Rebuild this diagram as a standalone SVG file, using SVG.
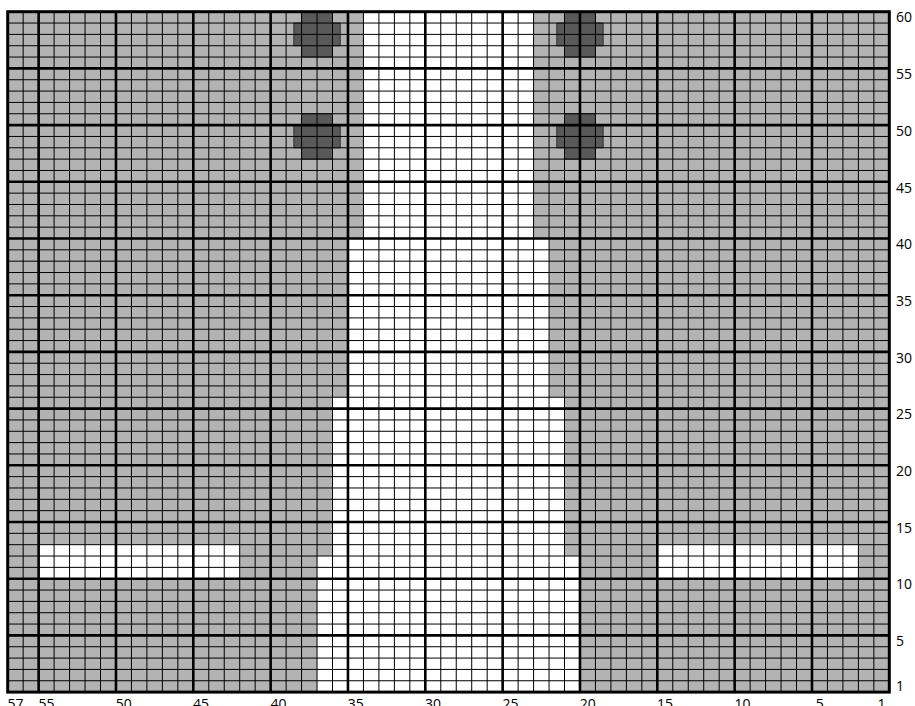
<svg xmlns="http://www.w3.org/2000/svg" width="915" height="706" viewBox="0 0 915 706">
<style>
.bg{fill:#b3b3b3}
.wh{fill:#ffffff}
.dot{fill:#595959;stroke:#333333;stroke-width:1}
.thin{fill:none;stroke:#000000;stroke-width:1}
.thick{fill:none;stroke:#000000;stroke-width:2.6}
.border{fill:none;stroke:#000000;stroke-width:3}
.lbl{font-family:"Open Sans","Noto Sans","Liberation Sans",sans-serif;font-size:14px;fill:#000000}
.cl{text-anchor:middle}
</style>
<defs>
<polygon id="dotshape" points="-15.47,-22.68 15.47,-22.68 15.47,-11.34 23.2,-11.34 23.2,11.34 15.47,11.34 15.47,22.68 -15.47,22.68 -15.47,11.34 -23.2,11.34 -23.2,-11.34 -15.47,-11.34"/>
</defs>
<rect width="915" height="706" fill="#ffffff"/>
<g id="chart">
<rect class="bg" x="7.7" y="11.7" width="881.62" height="680.4"/>
<polygon class="wh" points="363.44,11.70 533.58,11.70 533.58,238.50 549.05,238.50 549.05,397.26 564.51,397.26 564.51,556.02 579.98,556.02 579.98,692.10 317.04,692.10 317.04,556.02 332.51,556.02 332.51,397.26 347.97,397.26 347.97,238.50 363.44,238.50"/>
<rect class="wh" x="38.63" y="544.68" width="201.08" height="34.02"/>
<rect class="wh" x="657.31" y="544.68" width="201.08" height="34.02"/>
<use href="#dotshape" class="dot" x="317.04" y="34.38"/>
<use href="#dotshape" class="dot" x="579.98" y="34.38"/>
<use href="#dotshape" class="dot" x="317.04" y="136.44"/>
<use href="#dotshape" class="dot" x="579.98" y="136.44"/>
</g>
<g id="grid">
<path class="thin" d="M23.17 11.7V692.1M54.10 11.7V692.1M69.57 11.7V692.1M85.04 11.7V692.1M100.50 11.7V692.1M131.44 11.7V692.1M146.90 11.7V692.1M162.37 11.7V692.1M177.84 11.7V692.1M208.77 11.7V692.1M224.24 11.7V692.1M239.71 11.7V692.1M255.17 11.7V692.1M286.11 11.7V692.1M301.57 11.7V692.1M317.04 11.7V692.1M332.51 11.7V692.1M363.44 11.7V692.1M378.91 11.7V692.1M394.38 11.7V692.1M409.84 11.7V692.1M440.78 11.7V692.1M456.24 11.7V692.1M471.71 11.7V692.1M487.18 11.7V692.1M518.11 11.7V692.1M533.58 11.7V692.1M549.05 11.7V692.1M564.51 11.7V692.1M595.45 11.7V692.1M610.91 11.7V692.1M626.38 11.7V692.1M641.85 11.7V692.1M672.78 11.7V692.1M688.25 11.7V692.1M703.72 11.7V692.1M719.18 11.7V692.1M750.12 11.7V692.1M765.58 11.7V692.1M781.05 11.7V692.1M796.52 11.7V692.1M827.45 11.7V692.1M842.92 11.7V692.1M858.39 11.7V692.1M873.85 11.7V692.1"/>
<path class="thin" d="M7.7 23.04H889.32M7.7 34.38H889.32M7.7 45.72H889.32M7.7 57.06H889.32M7.7 79.74H889.32M7.7 91.08H889.32M7.7 102.42H889.32M7.7 113.76H889.32M7.7 136.44H889.32M7.7 147.78H889.32M7.7 159.12H889.32M7.7 170.46H889.32M7.7 193.14H889.32M7.7 204.48H889.32M7.7 215.82H889.32M7.7 227.16H889.32M7.7 249.84H889.32M7.7 261.18H889.32M7.7 272.52H889.32M7.7 283.86H889.32M7.7 306.54H889.32M7.7 317.88H889.32M7.7 329.22H889.32M7.7 340.56H889.32M7.7 363.24H889.32M7.7 374.58H889.32M7.7 385.92H889.32M7.7 397.26H889.32M7.7 419.94H889.32M7.7 431.28H889.32M7.7 442.62H889.32M7.7 453.96H889.32M7.7 476.64H889.32M7.7 487.98H889.32M7.7 499.32H889.32M7.7 510.66H889.32M7.7 533.34H889.32M7.7 544.68H889.32M7.7 556.02H889.32M7.7 567.36H889.32M7.7 590.04H889.32M7.7 601.38H889.32M7.7 612.72H889.32M7.7 624.06H889.32M7.7 646.74H889.32M7.7 658.08H889.32M7.7 669.42H889.32M7.7 680.76H889.32"/>
<path class="thick" d="M38.63 11.7V692.1M115.97 11.7V692.1M193.30 11.7V692.1M270.64 11.7V692.1M347.97 11.7V692.1M425.31 11.7V692.1M502.64 11.7V692.1M579.98 11.7V692.1M657.31 11.7V692.1M734.65 11.7V692.1M811.98 11.7V692.1"/>
<path class="thick" d="M7.7 68.40H889.32M7.7 125.10H889.32M7.7 181.80H889.32M7.7 238.50H889.32M7.7 295.20H889.32M7.7 351.90H889.32M7.7 408.60H889.32M7.7 465.30H889.32M7.7 522.00H889.32M7.7 578.70H889.32M7.7 635.40H889.32"/>
<rect class="border" x="7.7" y="11.7" width="881.62" height="680.4"/>
</g>
<g id="row-labels" class="lbl">
<text x="896" y="22.4">60</text>
<text x="896" y="79.1">55</text>
<text x="896" y="135.8">50</text>
<text x="896" y="192.5">45</text>
<text x="896" y="249.2">40</text>
<text x="896" y="305.9">35</text>
<text x="896" y="362.6">30</text>
<text x="896" y="419.3">25</text>
<text x="896" y="476.0">20</text>
<text x="896" y="532.7">15</text>
<text x="896" y="589.4">10</text>
<text x="896" y="646.1">5</text>
<text x="896" y="691.4">1</text>
</g>
<g id="col-labels" class="lbl cl">
<text x="15.4" y="708.5">57</text>
<text x="46.4" y="708.5">55</text>
<text x="123.7" y="708.5">50</text>
<text x="201.0" y="708.5">45</text>
<text x="278.4" y="708.5">40</text>
<text x="355.7" y="708.5">35</text>
<text x="433.0" y="708.5">30</text>
<text x="510.4" y="708.5">25</text>
<text x="587.7" y="708.5">20</text>
<text x="665.0" y="708.5">15</text>
<text x="742.4" y="708.5">10</text>
<text x="819.7" y="708.5">5</text>
<text x="881.6" y="708.5">1</text>
</g>
</svg>
